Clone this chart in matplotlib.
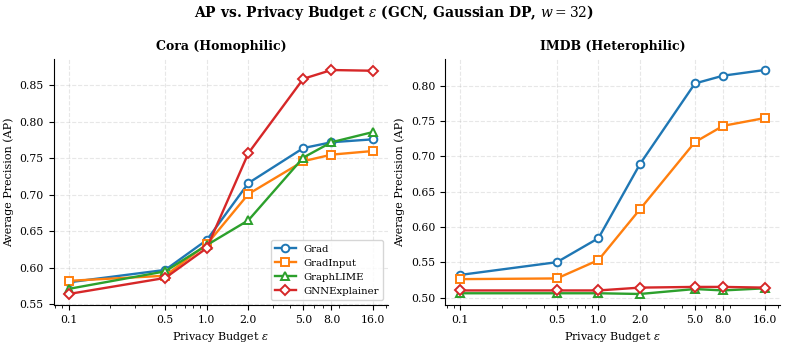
import numpy as np
import matplotlib.pyplot as plt

plt.rcParams['font.family'] = 'DejaVu Serif'
plt.rcParams['mathtext.fontset'] = 'dejavuserif'

eps = [0.1, 0.5, 1.0, 2.0, 5.0, 8.0, 16.0]
eps_labels = ['0.1', '0.5', '1.0', '2.0', '5.0', '8.0', '16.0']
methods = ['Grad', 'GradInput', 'GraphLIME', 'GNNExplainer']

# Cora (homophilic)
cora_grad = [0.580, 0.597, 0.638, 0.716, 0.764, 0.772, 0.776]
cora_gradinput = [0.582, 0.589, 0.632, 0.701, 0.746, 0.755, 0.760]
cora_graphlime = [0.571, 0.595, 0.631, 0.665, 0.751, 0.772, 0.786]
cora_gnnexp = [0.564, 0.586, 0.627, 0.757, 0.859, 0.871, 0.870]

# IMDB (heterophilic)
imdb_grad = [0.532, 0.550, 0.584, 0.689, 0.803, 0.814, 0.822]
imdb_gradinput = [0.526, 0.527, 0.553, 0.625, 0.720, 0.743, 0.754]
imdb_graphlime = [0.506, 0.506, 0.506, 0.505, 0.512, 0.510, 0.513]
imdb_gnnexp = [0.510, 0.510, 0.510, 0.514, 0.515, 0.515, 0.514]

colors = ['#1f77b4', '#ff7f0e', '#2ca02c', '#d62728']
markers = ['o', 's', '^', 'D']

fig, axes = plt.subplots(1, 2, figsize=(7.87, 3.46), dpi=100)
fig.subplots_adjust(left=0.068, right=0.991, top=0.830, bottom=0.118, wspace=0.17)

panels = [
    ('Cora (Homophilic)', [cora_grad, cora_gradinput, cora_graphlime, cora_gnnexp]),
    ('IMDB (Heterophilic)', [imdb_grad, imdb_gradinput, imdb_graphlime, imdb_gnnexp]),
]

for ax, (title, series) in zip(axes, panels):
    for name, vals, c, m in zip(methods, series, colors, markers):
        ax.plot(eps, vals, color=c, marker=m, markersize=5.5 if m != 'D' else 5,
                markerfacecolor='white', markeredgewidth=1.4, linewidth=1.7, label=name)
    ax.set_xscale('log')
    ax.set_xticks(eps)
    ax.set_xticklabels(eps_labels)
    ax.set_title(title, fontweight='bold', fontsize=9)
    ax.set_xlabel(r'Privacy Budget $\varepsilon$', fontsize=8)
    ax.set_ylabel('Average Precision (AP)', fontsize=8)
    ax.tick_params(labelsize=7.8)
    ax.grid(True, linestyle='--', alpha=0.3)
    ax.spines['top'].set_visible(False)
    ax.spines['right'].set_visible(False)

axes[0].legend(loc='lower right', fontsize=7.3)

fig.suptitle(r'AP vs. Privacy Budget $\varepsilon$ (GCN, Gaussian DP, $w = 32$)',
             fontweight='bold', fontsize=10, y=0.99)
fig.savefig('out.png', dpi=100)
